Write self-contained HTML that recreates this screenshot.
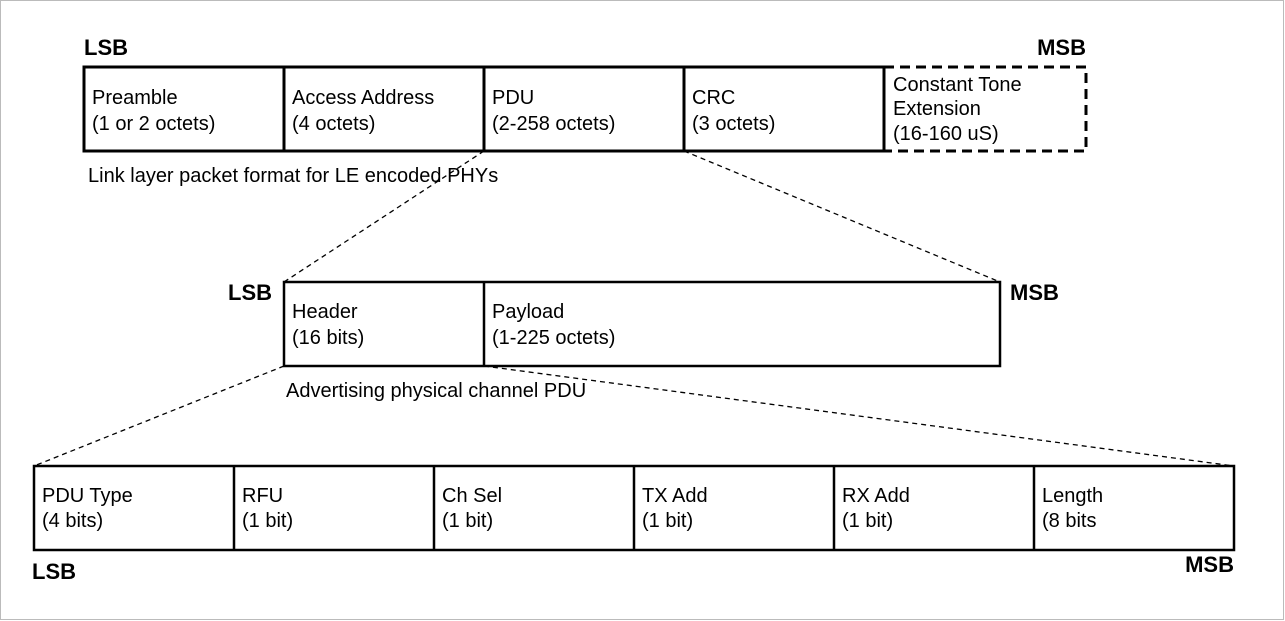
<!DOCTYPE html>
<html><head><style>body{margin:0;background:#fff}svg{display:block}</style></head><body>
<svg width="1285" height="621" xmlns="http://www.w3.org/2000/svg" font-family="Liberation Sans, Arial, sans-serif">
<rect x="0.5" y="0.5" width="1283" height="619" fill="#fff" stroke="#bbb"/>
<g font-size="22" font-weight="bold" fill="#000">
<text x="84" y="55">LSB</text>
<text x="1086" y="55" text-anchor="end">MSB</text>
<text x="228" y="300">LSB</text>
<text x="1010" y="300">MSB</text>
<text x="32" y="579">LSB</text>
<text x="1234" y="572" text-anchor="end">MSB</text>
</g>
<g fill="none" stroke="#000" stroke-width="3">
<rect x="84" y="67" width="800" height="84"/>
<line x1="284" y1="67" x2="284" y2="151"/><line x1="484" y1="67" x2="484" y2="151"/><line x1="684" y1="67" x2="684" y2="151"/>
<path d="M884 67H1086V151H884" stroke-dasharray="10 6"/>
<rect x="284" y="282" width="716" height="84" stroke-width="2.5"/>
<line x1="484" y1="282" x2="484" y2="366" stroke-width="2.5"/>
<rect x="34" y="466" width="1200" height="84" stroke-width="2.5"/>
<g stroke-width="2.5"><line x1="234" y1="466" x2="234" y2="550"/><line x1="434" y1="466" x2="434" y2="550"/><line x1="634" y1="466" x2="634" y2="550"/><line x1="834" y1="466" x2="834" y2="550"/><line x1="1034" y1="466" x2="1034" y2="550"/></g>
</g>
<g stroke="#000" stroke-width="1.3" stroke-dasharray="5 4">
<line x1="484" y1="151" x2="284" y2="282"/><line x1="684" y1="151" x2="1000" y2="282"/>
<line x1="284" y1="366" x2="34" y2="466"/><line x1="484" y1="366" x2="1234" y2="466"/>
</g>
<g font-size="20" fill="#000">
<text x="92" y="104">Preamble</text><text x="92" y="130">(1 or 2 octets)</text>
<text x="292" y="104">Access Address</text><text x="292" y="130">(4 octets)</text>
<text x="492" y="104">PDU</text><text x="492" y="130">(2-258 octets)</text>
<text x="692" y="104">CRC</text><text x="692" y="130">(3 octets)</text>
<text x="893" y="91">Constant Tone</text><text x="893" y="115">Extension</text><text x="893" y="140">(16-160 uS)</text>
<text x="88" y="182">Link layer packet format for LE encoded PHYs</text>
<text x="292" y="318">Header</text><text x="292" y="344">(16 bits)</text>
<text x="492" y="318">Payload</text><text x="492" y="344">(1-225 octets)</text>
<text x="286" y="397">Advertising physical channel PDU</text>
<text x="42" y="502">PDU Type</text><text x="42" y="527">(4 bits)</text>
<text x="242" y="502">RFU</text><text x="242" y="527">(1 bit)</text>
<text x="442" y="502">Ch Sel</text><text x="442" y="527">(1 bit)</text>
<text x="642" y="502">TX Add</text><text x="642" y="527">(1 bit)</text>
<text x="842" y="502">RX Add</text><text x="842" y="527">(1 bit)</text>
<text x="1042" y="502">Length</text><text x="1042" y="527">(8 bits</text>
</g>
</svg>
</body></html>
